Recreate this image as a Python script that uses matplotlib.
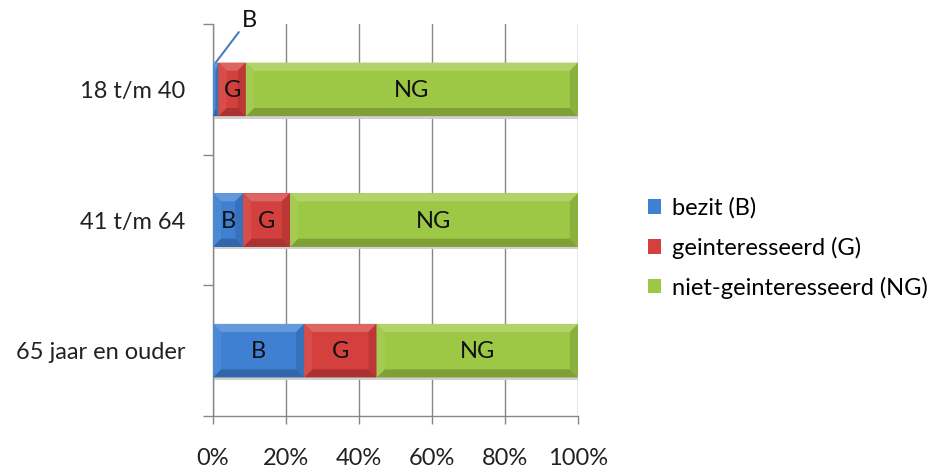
import numpy as np
import matplotlib.pyplot as plt
from matplotlib.patches import Polygon, Rectangle
from matplotlib.colors import to_rgb

plt.rcParams['font.family'] = ['Lato', 'DejaVu Sans']

# ---------------------------------------------------------
# data (percentages per age group)
# ---------------------------------------------------------
groups = ["18 t/m 40", "41 t/m 64", "65 jaar en ouder"]
bezit = [1.5, 8.3, 25.0]
geinteresseerd = [7.5, 12.8, 19.8]
niet_geinteresseerd = [91.0, 78.9, 55.2]

series_names = ["bezit (B)", "geinteresseerd (G)", "niet-geinteresseerd (NG)"]
short_names = ["B", "G", "NG"]
colors = ["#3f80d2", "#d4403d", "#9dc845"]

FS = 17
GRID = "#878787"


def shade(c, f):
    r, g, b = to_rgb(c)
    if f >= 0:
        return (r + (1 - r) * f, g + (1 - g) * f, b + (1 - b) * f)
    return (r * (1 + f), g * (1 + f), b * (1 + f))


def bevel(ax, x0, w, yc, h, color, bx=2.2, by=0.062):
    # little 3d bevel drawn on top of a bar segment
    bx = min(bx, w / 2)
    by = min(by, h / 2)
    x1 = x0 + w
    top, bot = yc - h / 2, yc + h / 2
    o = [(x0, top), (x1, top), (x1, bot), (x0, bot)]
    i = [(x0 + bx, top + by), (x1 - bx, top + by), (x1 - bx, bot - by), (x0 + bx, bot - by)]
    facets = [
        ([o[0], o[1], i[1], i[0]], shade(color, 0.20)),
        ([o[3], o[2], i[2], i[3]], shade(color, -0.20)),
        ([o[0], o[3], i[3], i[0]], shade(color, 0.07)),
        ([o[1], o[2], i[2], i[1]], shade(color, -0.12)),
    ]
    for pts, c in facets:
        ax.add_patch(Polygon(pts, closed=True, facecolor=c, edgecolor="none", zorder=4))


fig = plt.figure(figsize=(9.4, 4.7), dpi=100)
ax = fig.add_axes([213 / 940, 54 / 470, 365 / 940, 392 / 470])

y = np.arange(len(groups))
bar_h = 0.41
data = [bezit, geinteresseerd, niet_geinteresseerd]

left = np.zeros(len(groups))
handles = []
for vals, col, name, short in zip(data, colors, series_names, short_names):
    vals = np.array(vals)
    # soft shadow under each segment
    for k in range(len(groups)):
        ax.add_patch(Rectangle((left[k] + 0.3, y[k] - bar_h / 2 + 0.02), vals[k], bar_h,
                               facecolor="#d0d0d0", edgecolor="none", zorder=2))
    bars = ax.barh(y, vals, height=bar_h, left=left, color=col, edgecolor="none",
                   zorder=3, label=name)
    handles.append(bars)
    for k in range(len(groups)):
        bevel(ax, left[k], vals[k], y[k], bar_h, col)
        if vals[k] >= 5:
            ax.text(left[k] + vals[k] / 2, y[k] + 0.01, short, ha="center", va="center",
                    fontsize=FS, color="#111111", zorder=6)
    left += vals

# small segment of the first group gets a label with a leader line
ax.annotate("B", xy=(bezit[0] / 2, y[0] - bar_h / 2), xytext=(9.9, -0.53),
            ha="center", va="center", fontsize=FS, color="#111111",
            annotation_clip=False, zorder=6,
            arrowprops=dict(arrowstyle="-", color="#4a7ebb", lw=1.5,
                            shrinkA=0, shrinkB=0, relpos=(0.0, 0.1)))

ax.set_xlim(0, 100)
ax.set_ylim(len(groups) - 0.5, -0.5)

ax.set_xticks(np.arange(0, 101, 20))
ax.set_xticklabels([f"{v}%" for v in range(0, 101, 20)], fontsize=FS, color="#222222")
ax.xaxis.grid(True, color=GRID, lw=1)
ax.set_axisbelow(True)

ax.set_yticks(np.arange(-0.5, len(groups), 1.0))
ax.set_yticklabels([])
ax.set_yticks(y, minor=True)
ax.set_yticklabels(groups, minor=True, fontsize=FS, color="#222222")
ax.tick_params(axis="y", which="major", direction="out", length=7, color=GRID, width=1)
ax.tick_params(axis="y", which="minor", length=0, pad=20)
ax.tick_params(axis="x", direction="out", length=6, color=GRID, width=1, pad=17)

for s in ["top", "right"]:
    ax.spines[s].set_visible(False)
for s in ["left", "bottom"]:
    ax.spines[s].set_color(GRID)
    ax.spines[s].set_linewidth(1)

fig.legend(handles=handles, labels=series_names, loc="center left",
           bbox_to_anchor=(648 / 940, 222 / 470), frameon=False, fontsize=FS,
           handlelength=0.55, handleheight=0.55, handletextpad=0.45,
           labelspacing=0.75, borderpad=0, borderaxespad=0)

fig.savefig("out.png", dpi=100)
